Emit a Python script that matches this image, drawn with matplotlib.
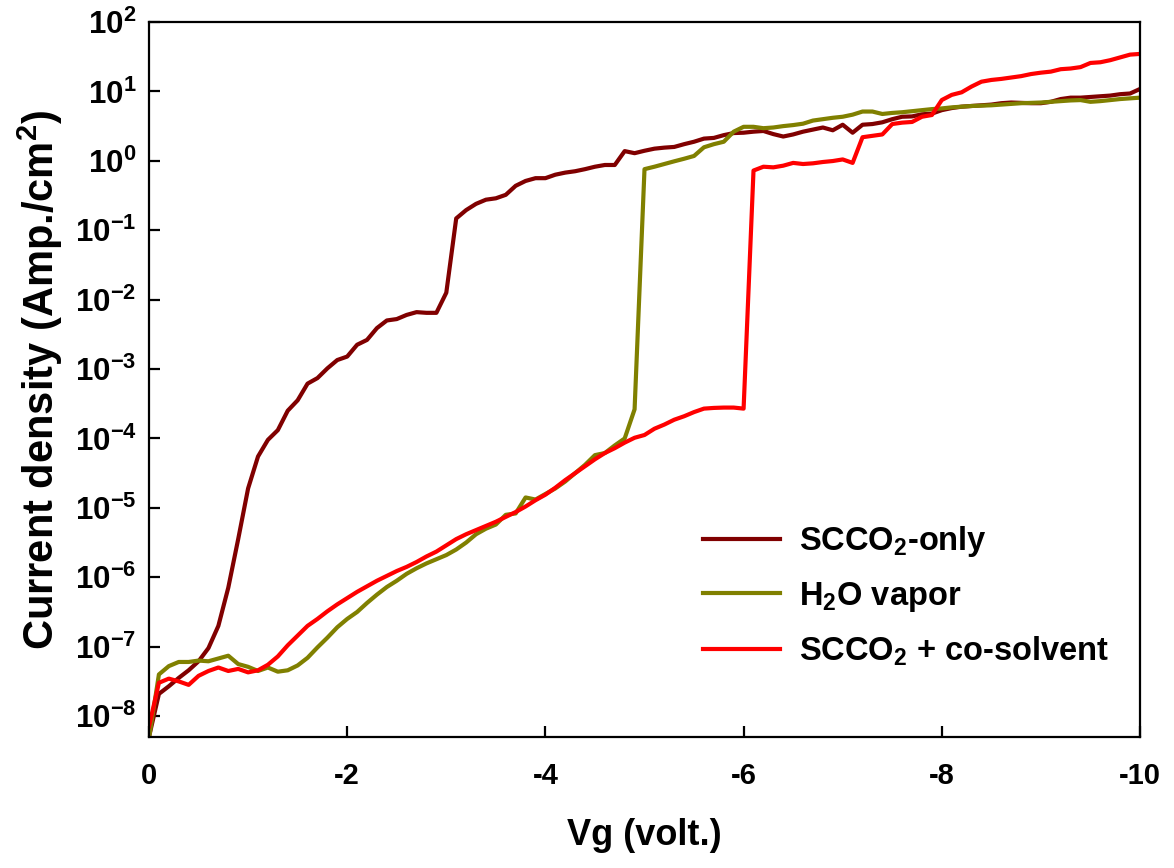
import numpy as np
import matplotlib
matplotlib.use('Agg')
import matplotlib.pyplot as plt
from matplotlib.ticker import NullLocator, FixedLocator, LogFormatterSciNotation

plt.rcParams['font.family'] = ['Liberation Sans', 'DejaVu Sans']
plt.rcParams['font.weight'] = 'bold'
plt.rcParams['mathtext.fontset'] = 'custom'
plt.rcParams['mathtext.rm'] = 'Liberation Sans:bold'
plt.rcParams['mathtext.bf'] = 'Liberation Sans:bold'
plt.rcParams['mathtext.it'] = 'Liberation Sans:bold'
plt.rcParams['mathtext.default'] = 'rm'
plt.rcParams['axes.unicode_minus'] = False

# gate voltage magnitude, 0 .. 10 V in 0.1 V steps (plotted as negative Vg)
vg = np.round(np.arange(0, 101) * 0.1, 1)

# log10 of current density (A/cm2)
scco2_only = [
    -8.30, -7.68, -7.57, -7.45, -7.34, -7.21, -7.02, -6.70, -6.15, -5.45,
    -4.72, -4.26, -4.02, -3.88, -3.60, -3.45, -3.21, -3.13, -2.99, -2.87,
    -2.82, -2.65, -2.58, -2.41, -2.30, -2.28, -2.22, -2.18, -2.19, -2.19,
    -1.90, -0.83, -0.71, -0.62, -0.56, -0.54, -0.49, -0.36, -0.29, -0.25,
    -0.25, -0.20, -0.17, -0.15, -0.12, -0.085, -0.06, -0.06, 0.14, 0.11,
    0.145, 0.175, 0.19, 0.20, 0.24, 0.275, 0.32, 0.33, 0.37, 0.40,
    0.405, 0.42, 0.43, 0.385, 0.35, 0.38, 0.42, 0.45, 0.48, 0.44,
    0.52, 0.405, 0.52, 0.53, 0.555, 0.60, 0.635, 0.64, 0.67, 0.68,
    0.73, 0.76, 0.78, 0.79, 0.80, 0.81, 0.83, 0.84, 0.835, 0.83,
    0.83, 0.85, 0.89, 0.91, 0.91, 0.92, 0.93, 0.94, 0.96, 0.97,
    1.035]

h2o_vapor = [
    -8.32, -7.40, -7.28, -7.22, -7.22, -7.20, -7.21, -7.17, -7.13, -7.25,
    -7.29, -7.35, -7.30, -7.36, -7.34, -7.27, -7.16, -7.01, -6.87, -6.72,
    -6.60, -6.50, -6.37, -6.25, -6.14, -6.05, -5.95, -5.87, -5.80, -5.74,
    -5.68, -5.60, -5.50, -5.38, -5.30, -5.24, -5.10, -5.08, -4.85, -4.88,
    -4.80, -4.72, -4.62, -4.50, -4.38, -4.24, -4.21, -4.10, -4.00, -3.58,
    -0.12, -0.085, -0.046, -0.007, 0.03, 0.07, 0.195, 0.24, 0.275, 0.42,
    0.49, 0.49, 0.47, 0.48, 0.50, 0.515, 0.535, 0.58, 0.60, 0.62,
    0.635, 0.665, 0.71, 0.71, 0.675, 0.69, 0.70, 0.715, 0.73, 0.745,
    0.755, 0.77, 0.78, 0.79, 0.795, 0.80, 0.81, 0.82, 0.83, 0.835,
    0.84, 0.85, 0.86, 0.87, 0.875, 0.85, 0.86, 0.875, 0.89, 0.90,
    0.91]

scco2_cosolvent = [
    -8.15, -7.52, -7.46, -7.50, -7.55, -7.42, -7.35, -7.30, -7.35, -7.32,
    -7.37, -7.34, -7.26, -7.14, -6.98, -6.84, -6.70, -6.60, -6.49, -6.39,
    -6.30, -6.21, -6.13, -6.05, -5.98, -5.91, -5.85, -5.78, -5.70, -5.63,
    -5.54, -5.45, -5.38, -5.32, -5.26, -5.20, -5.13, -5.06, -4.98, -4.89,
    -4.81, -4.71, -4.60, -4.50, -4.40, -4.30, -4.21, -4.14, -4.06, -3.99,
    -3.95, -3.86, -3.80, -3.73, -3.68, -3.62, -3.57, -3.56, -3.555, -3.555,
    -3.57, -0.14, -0.085, -0.094, -0.07, -0.03, -0.046, -0.036, -0.017, -0.003,
    0.02, -0.03, 0.34, 0.36, 0.38, 0.53, 0.55, 0.56, 0.635, 0.66,
    0.876, 0.95, 0.987, 1.07, 1.14, 1.165, 1.18, 1.20, 1.22, 1.25,
    1.27, 1.285, 1.32, 1.33, 1.35, 1.41, 1.42, 1.45, 1.49, 1.53,
    1.54]

labels = ['SCCO$_2$-only', 'H$_2$O vapor', 'SCCO$_2$ + co-solvent']
colors = ['#800000', '#808000', '#ff0000']
x_ticks = [0, -2, -4, -6, -8, -10]
y_ticks = [1e-8, 1e-7, 1e-6, 1e-5, 1e-4, 1e-3, 1e-2, 1e-1, 1e0, 1e1, 1e2]

fig = plt.figure(figsize=(11.74, 8.68), dpi=100)
ax = fig.add_axes([149 / 1174, 131 / 868, 991 / 1174, 715 / 868])

for series, lab, col in zip([scco2_only, h2o_vapor, scco2_cosolvent], labels, colors):
    ax.plot(-vg, 10 ** np.array(series), color=col, lw=3.0, label=lab)

ax.set_yscale('log')
ax.set_xlim(0, -10)
ax.set_ylim(5e-9, 100)
ax.xaxis.set_major_locator(FixedLocator(x_ticks))
ax.yaxis.set_major_locator(FixedLocator(y_ticks))
ax.yaxis.set_major_formatter(LogFormatterSciNotation())
ax.yaxis.set_minor_locator(NullLocator())

ax.tick_params(direction='in', length=8, width=1.6, labelsize=21, pad=10)
ax.tick_params(axis='y', labelsize=22.5, pad=9)
ax.tick_params(axis='x', pad=18)
for sp in ax.spines.values():
    sp.set_linewidth(1.6)

ax.set_xlabel('Vg (volt.)', fontsize=26, fontweight='bold')
ax.xaxis.set_label_coords(0.5, -0.113)
ax.set_ylabel('Current density (Amp./cm$^2$)', fontsize=30, fontweight='bold')
ax.yaxis.set_label_coords(-0.085, 0.5)

ax.legend(loc='upper left', bbox_to_anchor=(703 / 1174, 1 - 524 / 868),
          bbox_transform=fig.transFigure, frameon=False,
          fontsize=23.5, handlelength=2.36, handletextpad=0.58, labelspacing=0.63,
          borderpad=0, borderaxespad=0)

fig.savefig('out.png', dpi=100)
